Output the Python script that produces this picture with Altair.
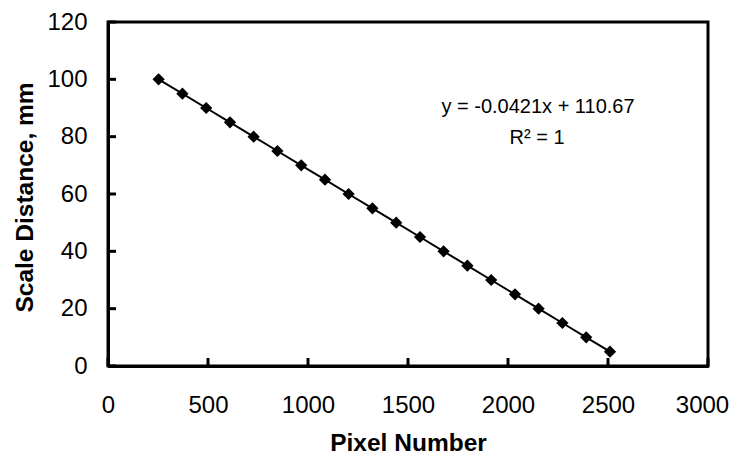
import altair as alt
import pandas as pd

# Data
pixel_number = [253, 372, 491, 610, 728, 847, 966, 1085, 1203, 1322,
                1441, 1560, 1678, 1797, 1916, 2035, 2153, 2272, 2391, 2510]
scale_distance = [100, 95, 90, 85, 80, 75, 70, 65, 60, 55,
                  50, 45, 40, 35, 30, 25, 20, 15, 10, 5]
x_ticks = [0, 500, 1000, 1500, 2000, 2500, 3000]
y_ticks = [0, 20, 40, 60, 80, 100, 120]
eq_text = "y = -0.0421x + 110.67"
r2_text = "R² = 1"

W, H = 600, 344
FONT = "Liberation Sans"

df = pd.DataFrame({"x": pixel_number, "y": scale_distance})
xt = pd.DataFrame({"v": x_ticks})
yt = pd.DataFrame({"v": y_ticks})

xscale = alt.Scale(domain=[0, 3000], nice=False, zero=False)
yscale = alt.Scale(domain=[0, 120], nice=False, zero=False)

x_axis = alt.Axis(values=x_ticks, format="d", title="Pixel Number", ticks=False, grid=False,
                  domainColor="black", domainWidth=3, labelFontSize=24, labelFont=FONT,
                  labelColor="black", labelPadding=27, labelFlush=False, labelOverlap=False,
                  labelOffset={"condition": {"test": "datum.value == 3000", "value": -6}, "value": 0},
                  titleFontSize=24.5, titleFont=FONT,
                  titleFontWeight="bold", titleColor="black", titleBaseline="alphabetic",
                  titleY=84, titleX=W / 2)
y_axis = alt.Axis(values=y_ticks, format="d", title="Scale Distance, mm", ticks=False, grid=False,
                  domainColor="black", domainWidth=3, labelFontSize=24, labelFont=FONT,
                  labelColor="black", labelPadding=21, labelFlush=False, labelOverlap=False,
                  titleFontSize=24.5, titleFont=FONT,
                  titleFontWeight="bold", titleColor="black", titleBaseline="alphabetic",
                  titleX=-76, titleY=H / 2 + 3)

base = alt.Chart(df)

line = base.mark_line(color="black", strokeWidth=2).encode(
    x=alt.X("x:Q", scale=xscale, axis=x_axis),
    y=alt.Y("y:Q", scale=yscale, axis=y_axis),
)
points = base.mark_point(shape="diamond", filled=True, color="black", size=150, opacity=1).encode(
    x=alt.X("x:Q", scale=xscale),
    y=alt.Y("y:Q", scale=yscale),
)

xtick_marks = alt.Chart(xt).mark_rule(color="black", strokeWidth=3).encode(
    x=alt.X("v:Q", scale=xscale),
    y=alt.value(H),
    y2=alt.value(H - 8),
)
ytick_marks = alt.Chart(yt).mark_rule(color="black", strokeWidth=3).encode(
    y=alt.Y("v:Q", scale=yscale),
    x=alt.value(0),
    x2=alt.value(8),
)

eq = alt.Chart(pd.DataFrame({"t": [eq_text]})).mark_text(
    font=FONT, fontSize=20, color="black", align="center", baseline="alphabetic"
).encode(text="t:N", x=alt.value(430), y=alt.value(91))
r2 = alt.Chart(pd.DataFrame({"t": [r2_text]})).mark_text(
    font=FONT, fontSize=20, color="black", align="center", baseline="alphabetic"
).encode(text="t:N", x=alt.value(429), y=alt.value(122))

chart = alt.layer(line, points, xtick_marks, ytick_marks, eq, r2).properties(
    width=W, height=H,
    autosize=alt.AutoSizeParams(type="none"),
    padding={"left": 100, "top": 14, "right": 21, "bottom": 88},
).configure_view(stroke="black", strokeWidth=3)

chart.save("out.html", embed_options={"renderer": "svg", "actions": False})
